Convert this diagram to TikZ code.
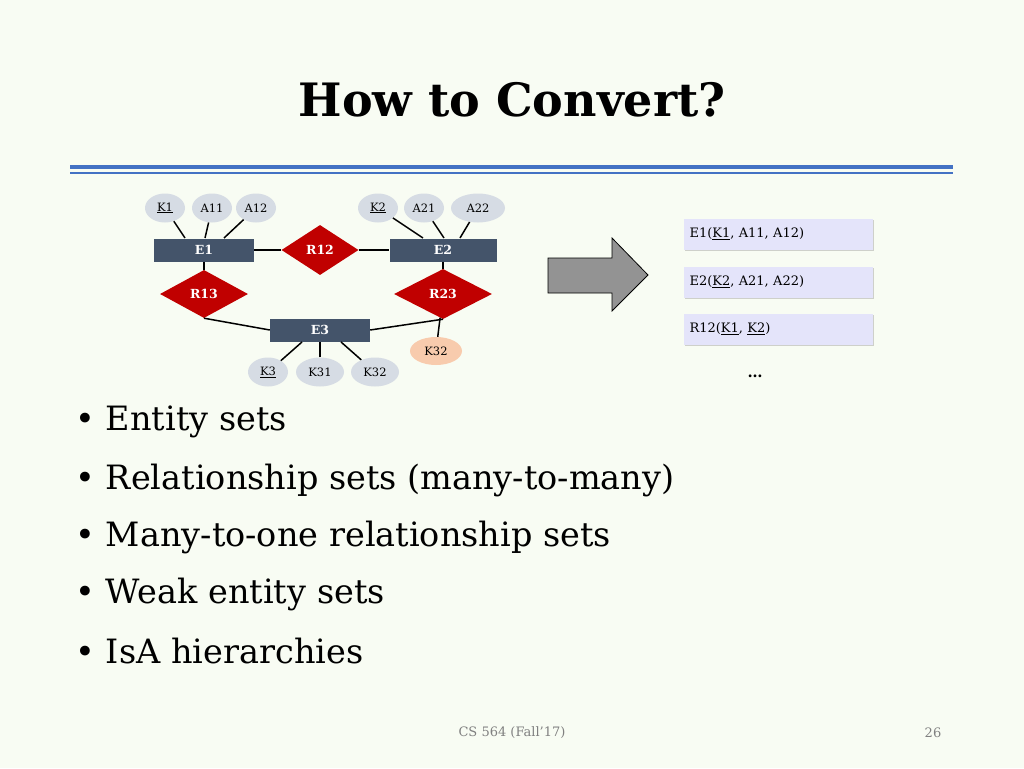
\documentclass[tikz,border=0pt]{standalone}
\usepackage{fontspec}
\setmainfont{DejaVu Serif}
\usetikzlibrary{shapes.geometric,shadows}
\definecolor{slidebg}{HTML}{F8FCF3}
\definecolor{entcol}{HTML}{44546A}
\definecolor{relcol}{HTML}{C00000}
\definecolor{attcol}{HTML}{D6DCE4}
\definecolor{weakcol}{HTML}{F8CBAD}
\definecolor{rulecol}{HTML}{4472C4}
\definecolor{tabcol}{HTML}{E4E4FA}
\tikzset{
  entity/.style={draw=none, fill=entcol, text=white, font=\fontsize{12.5}{14}\selectfont\bfseries, minimum height=23pt, inner sep=0pt},
  rel/.style={diamond, aspect=1.8, fill=relcol, text=white, font=\fontsize{12.5}{14}\selectfont\bfseries, inner sep=0pt},
  attr/.style={ellipse, fill=attcol, font=\fontsize{11.5}{13}\selectfont, minimum width=40pt, minimum height=29pt, inner sep=0pt},
  tabbox/.style={fill=tabcol, minimum width=189pt, minimum height=31pt, text width=177pt, align=left, font=\fontsize{13}{15}\selectfont, drop shadow={shadow xshift=1.5pt, shadow yshift=-1.5pt, opacity=0.35}},
  bullet/.style={anchor=west, font=\fontsize{33.5}{40}\selectfont},
  conn/.style={line width=1.5pt}
}
\begin{document}
\begin{tikzpicture}[x=1pt,y=-1pt]
\fill[slidebg] (0,0) rectangle (1024,768);
\useasboundingbox (0,0) rectangle (1024,768);
% title and rule
\node (title) at (512,100) {\fontsize{46}{54}\selectfont\bfseries How to Convert?};
\draw[rulecol, line width=4pt] (70,167) -- (953,167);
\draw[rulecol, line width=1.3pt] (70,173) -- (953,173);
% E-R diagram
\node[entity, minimum width=100pt] (e1) at (204,250) {E1};
\node[entity, minimum width=107pt] (e2) at (443,250) {E2};
\node[entity, minimum width=100pt] (e3) at (320,330) {E3};
\node[rel, minimum width=77pt, minimum height=50pt] (r12) at (320,250) {R12};
\node[rel, minimum width=88pt, minimum height=48pt] (r13) at (204,294) {R13};
\node[rel, minimum width=98pt, minimum height=50pt] (r23) at (443,294) {R23};
\node[attr] (k1) at (165,208) {\underline{K1}};
\node[attr] (a11) at (212,208) {A11};
\node[attr] (a12) at (256,208) {A12};
\node[attr] (k2) at (378,208) {\underline{K2}};
\node[attr] (a21) at (424,208) {A21};
\node[attr, minimum width=54pt] (a22) at (478,208) {A22};
\node[attr] (k3) at (268,372) {\underline{K3}};
\node[attr, minimum width=48pt] (k31) at (320,372) {K31};
\node[attr, minimum width=48pt] (k32) at (375,372) {K32};
\node[attr, fill=weakcol, minimum width=52pt, minimum height=28pt] (wk32) at (436,351) {K32};
\begin{scope}[conn]
\draw (k1) -- (185,238);
\draw (a11) -- (205,238);
\draw (a12) -- (224,238);
\draw (k2) -- (423,238);
\draw (a21) -- (444,238);
\draw (a22) -- (460,238);
\draw (e1) -- (r12) -- (e2);
\draw (e1) -- (r13);
\draw (e2) -- (r23);
\draw (r13.south) -- (e3.west);
\draw (r23.south) -- (e3.east);
\draw (r23) -- (wk32);
\draw (k3) -- (302,342);
\draw (k31) -- (320,342);
\draw (k32) -- (341,342);
\end{scope}
% arrow
\draw[fill=gray!85, line width=0.8pt] (548,258) -- (612,258) -- (612,238) -- (648,275) -- (612,311) -- (612,293) -- (548,293) -- cycle;
% relations
\node[tabbox] (t1) at (778,234) {E1(\underline{K1}, A11, A12)};
\node[tabbox] (t2) at (778,282) {E2(\underline{K2}, A21, A22)};
\node[tabbox] (t3) at (778,329) {R12(\underline{K1}, \underline{K2})};
\node[font=\fontsize{15}{17}\selectfont\bfseries] (dots) at (755,376) {\ldots};
% bullets
\node[bullet] (b1) at (72,422) {\textbullet\ Entity sets};
\node[bullet] (b2) at (72,480) {\textbullet\ Relationship sets (many-to-many)};
\node[bullet] (b3) at (72,537) {\textbullet\ Many-to-one relationship sets};
\node[bullet] (b4) at (72,594) {\textbullet\ Weak entity sets};
\node[bullet] (b5) at (72,651) {\textbullet\ IsA hierarchies};
% footer
\node[font=\fontsize{13}{15}\selectfont, text=gray] (foot) at (512,733) {CS 564 (Fall'17)};
\node[font=\fontsize{13}{15}\selectfont, text=gray] (page) at (933,733) {26};
\end{tikzpicture}
\end{document}
